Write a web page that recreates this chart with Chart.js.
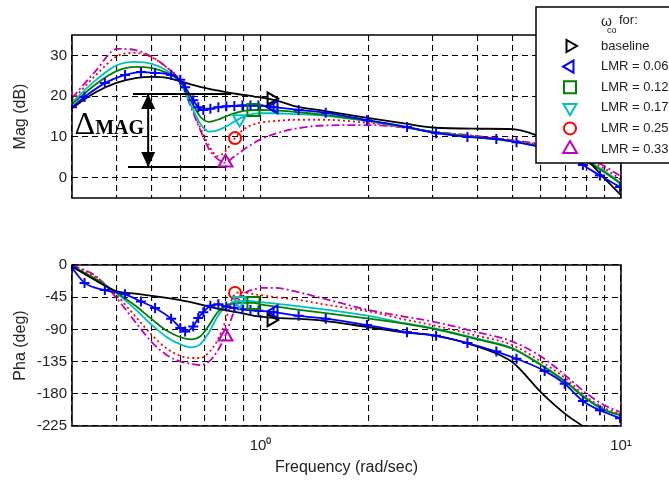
<!DOCTYPE html>
<html>
<head>
<meta charset="utf-8">
<script src="https://cdn.jsdelivr.net/npm/chart.js@4.4.0/dist/chart.umd.min.js"></script>
<style>
  body { margin: 0; background: #fff; width: 669px; height: 481px; overflow: hidden; position: relative; }
  canvas { position: absolute; left: 0; }
  #magChart { top: 0; }
  #phaChart { top: 220px; }
</style>
</head>
<body>
<canvas id="magChart" width="669" height="220"></canvas>
<canvas id="phaChart" width="669" height="261"></canvas>
<script>
// ---------- Data ----------
const freq = [0.3, 0.35, 0.4, 0.45, 0.5, 0.55, 0.6, 0.64, 0.68, 0.72, 0.76, 0.8, 0.84, 0.88, 0.92, 0.96,
  1.0, 1.1, 1.25, 1.5, 2, 2.5, 3, 4, 5, 6, 7, 8, 9, 10];
// LMR = 0.06 has its own sample points ('+' markers)
const freqLmr06 = [0.3, 0.325, 0.37, 0.421, 0.466, 0.51, 0.565, 0.599, 0.618, 0.651, 0.672, 0.694, 0.726,
  0.764, 0.804, 0.846, 0.891, 0.938, 0.987, 1.087, 1.276, 1.517, 1.974, 2.55, 3.07, 3.75, 4.51, 5.13,
  6.14, 6.98, 7.84, 8.74, 9.94];

const magBaseline = [17.1, 21.0, 23.3, 24.4, 24.7, 24.5, 23.6, 22.9, 22.3, 21.8, 21.4, 21.0, 20.7, 20.4, 20.2, 19.9,
  19.7, 19.0, 17.5, 16.4, 14.6, 13.3, 12.3, 12.0, 11.9, 10.0, 7.6, 4.5, -0.2, -4.3];
const magLmr06 = [17.3, 19.8, 23.2, 25.2, 25.9, 25.7, 25.2, 24.0, 22.2, 19.0, 17.3, 16.6, 16.9, 17.3, 17.5, 17.6,
  17.7, 17.7, 17.7, 17.3, 16.6, 15.9, 14.1, 12.4, 10.9, 10.0, 9.5, 8.7, 7.2, 5.6, 3.1, 0.5, -2.3];
const magLmr12 = [18.0, 23.0, 26.2, 27.2, 26.9, 25.7, 23.5, 19.0, 15.0, 13.7, 14.2, 15.0, 15.7, 16.2, 16.5, 16.6,
  16.6, 16.5, 16.1, 15.4, 13.9, 12.5, 11.2, 9.9, 8.9, 7.6, 6.1, 4.0, 1.3, -1.6];
const magLmr17 = [18.5, 24.0, 27.6, 28.4, 27.9, 26.2, 23.2, 18.0, 13.3, 11.3, 11.6, 12.5, 13.6, 14.6, 15.3, 15.7,
  15.8, 15.8, 15.6, 15.2, 13.8, 12.4, 11.2, 9.9, 8.9, 7.7, 6.3, 4.3, 1.6, -1.3];
const magLmr25 = [19.0, 25.2, 29.8, 30.6, 29.5, 27.0, 23.8, 18.0, 12.3, 7.8, 5.3, 6.5, 9.2, 11.2, 12.4, 13.1,
  13.5, 13.9, 14.2, 14.2, 13.4, 12.3, 11.2, 10.1, 9.1, 8.0, 6.7, 4.7, 2.2, -0.5];
const magLmr33 = [19.5, 26.3, 31.6, 31.3, 29.6, 27.0, 23.5, 17.5, 11.8, 7.0, 4.6, 3.7, 5.0, 6.3, 7.5, 8.5,
  9.4, 10.8, 12.0, 12.8, 12.9, 12.3, 11.3, 10.2, 9.2, 8.2, 7.0, 5.2, 2.8, 0.3];

const phaBaseline = [-2, -22, -37, -40, -43, -46, -49, -52, -55, -58, -61, -63, -65, -67, -69, -71,
  -72, -74, -75, -78, -87, -94, -98, -114, -136, -178, -208, -228, -245, -260];
const phaLmr06 = [-4, -25, -35, -41, -51, -60, -75, -88, -93, -86, -74, -66, -57, -55, -58, -60,
  -62, -63, -64, -66, -71, -75, -84, -94, -99, -109, -121, -131, -148, -166, -190, -203, -214];
const phaLmr12 = [-2, -20, -39, -57, -76, -92, -101, -104, -100, -84, -66, -57, -54, -53, -53, -53,
  -55, -58, -62, -67, -75, -82, -89, -104, -117, -140, -163, -187, -203, -210];
const phaLmr17 = [-2, -20, -40, -62, -84, -101, -111, -115, -111, -94, -72, -58, -52, -50, -50, -51,
  -52, -54, -57, -62, -71, -81, -88, -103, -116, -139, -162, -186, -202, -210];
const phaLmr25 = [-1, -17, -43, -72, -98, -117, -127, -130, -130, -122, -105, -78, -44, -38, -39, -41,
  -42, -45, -48, -55, -65, -76, -84, -99, -112, -135, -158, -184, -200, -208];
const phaLmr33 = [0, -16, -47, -80, -108, -126, -135, -138, -140, -135, -120, -98, -68, -45, -37, -34,
  -32, -32, -37, -47, -63, -72, -79, -94, -107, -128, -154, -179, -196, -206];

// crossover (w_co) markers: baseline, 0.06, 0.12, 0.17, 0.25, 0.33
const seriesLabels = ["baseline", "LMR = 0.06", "LMR = 0.12", "LMR = 0.17", "LMR = 0.25", "LMR = 0.33"];
const crossFreq = [1.07, 1.09, 0.956, 0.875, 0.85, 0.80];
const crossMag = [19.4, 17.3, 16.6, 14.4, 9.7, 3.7];
const crossPha = [-77, -65, -53, -50, -39, -100];

// axis ticks
const freqGrid = [0.3, 0.4, 0.5, 0.6, 0.7, 0.8, 0.9, 1, 2, 3, 4, 5, 6, 7, 8, 9, 10];
const magTicks = [0, 10, 20, 30];
const phaTicks = [-225, -180, -135, -90, -45, 0];

// Delta MAG annotation (dB levels and frequency spans)
const deltaLevels = [20.5, 2.6];
const deltaSpanTop = [0.443, 0.83];
const deltaSpanBottom = [0.429, 0.804];
const deltaArrowFreq = 0.488;
const deltaTextPos = [0.305, 10.7];

// ---------- Styles ----------
const styles = [
  { color: "#000000", dash: [], marker: "triangle", rot: 90, r: 7 },
  { color: "#0000ff", dash: [], marker: "triangle", rot: 270, r: 7 },
  { color: "#008000", dash: [], marker: "rect", rot: 0, r: 8.5 },
  { color: "#00bfbf", dash: [], marker: "triangle", rot: 180, r: 7.5 },
  { color: "#ff0000", dash: [2, 3], marker: "circle", rot: 0, r: 6 },
  { color: "#bf00bf", dash: [8, 3, 2, 3], marker: "triangle", rot: 0, r: 8 }
];
const FONT = '"Liberation Sans", Arial, sans-serif';
Chart.defaults.font.family = FONT;
Chart.defaults.color = "#222";

function buildDatasets(series, cross) {
  let sets = [];
  series.forEach((ys, i) => {
    const xs = i === 1 ? freqLmr06 : freq;
    const s = styles[i];
    sets.push({
      label: seriesLabels[i],
      data: xs.map((x, k) => ({ x: x, y: ys[k] })),
      borderColor: s.color,
      borderWidth: 1.8,
      borderDash: s.dash,
      pointRadius: i === 1 ? 5 : 0,
      pointStyle: "cross",
      pointBorderWidth: 2,
      pointBorderColor: s.color,
      cubicInterpolationMode: "monotone",
      fill: false,
      order: i === 1 ? 2 : 3
    });
  });
  crossFreq.forEach((f, i) => {
    const s = styles[i];
    sets.push({
      label: seriesLabels[i],
      isMarker: true,
      data: [{ x: f, y: cross[i] }],
      showLine: false,
      pointStyle: s.marker,
      pointRotation: s.rot,
      pointRadius: s.r,
      pointBorderColor: s.color,
      pointBackgroundColor: "rgba(0,0,0,0)",
      pointBorderWidth: 2,
      order: 0
    });
  });
  return sets;
}

function annotLine(xs, ys) {
  return {
    label: "annot",
    data: xs.map((x, k) => ({ x: x, y: ys[k] })),
    borderColor: "#000",
    borderWidth: 2,
    pointRadius: 0,
    tension: 0,
    order: 1
  };
}

function xScale(showLabels) {
  return {
    type: "logarithmic",
    min: 0.3,
    max: 10,
    bounds: "data",
    afterBuildTicks: axis => { axis.ticks = freqGrid.map(v => ({ value: v, major: v === 1 || v === 10 })); },
    afterFit: axis => { axis.height = showLabels ? 55 : 0; },
    grid: { color: "#000", lineWidth: 1.1, drawTicks: false },
    border: { display: false, dash: [6, 4] },
    ticks: {
      display: showLabels,
      autoSkip: false,
      maxRotation: 0,
      padding: 11,
      font: { size: 15 },
      callback: v => (v === 1 ? "10\u2070" : v === 10 ? "10\u00b9" : "")
    },
    title: {
      display: showLabels,
      text: "Frequency (rad/sec)",
      font: { size: 16 },
      padding: { top: 0, bottom: 4 }
    }
  };
}

function yScale(min, max, ticks, title) {
  return {
    min: min,
    max: max,
    bounds: "data",
    afterBuildTicks: axis => { axis.ticks = ticks.map(v => ({ value: v })); },
    afterFit: axis => { axis.width = 72; },
    grid: { color: "#000", lineWidth: 1.1, drawTicks: false },
    border: { display: false, dash: [6, 4] },
    ticks: { padding: 5, font: { size: 15 } },
    title: { display: true, text: title, font: { size: 16 }, padding: { top: 11, bottom: 0 } }
  };
}

// ---------- Plugins ----------
const frame = {
  id: "frame",
  afterDatasetsDraw(chart) {
    const { ctx, chartArea: a } = chart;
    ctx.save();
    ctx.setLineDash([]);
    ctx.strokeStyle = "#000";
    ctx.lineWidth = 1.5;
    ctx.strokeRect(a.left, a.top, a.right - a.left, a.bottom - a.top);
    ctx.restore();
  }
};

const deltaMag = {
  id: "deltaMag",
  afterDatasetsDraw(chart) {
    const ctx = chart.ctx;
    const xs = chart.scales.x, ys = chart.scales.y;
    const ax = xs.getPixelForValue(deltaArrowFreq);
    const yTop = ys.getPixelForValue(deltaLevels[0]);
    const yBot = ys.getPixelForValue(deltaLevels[1]);
    ctx.save();
    ctx.fillStyle = "#000";
    [[yTop, 1], [yBot, -1]].forEach(([tip, dir]) => {
      ctx.beginPath();
      ctx.moveTo(ax, tip);
      ctx.lineTo(ax - 7, tip + dir * 15);
      ctx.lineTo(ax + 7, tip + dir * 15);
      ctx.closePath();
      ctx.fill();
    });
    const tx = xs.getPixelForValue(deltaTextPos[0]);
    const ty = ys.getPixelForValue(deltaTextPos[1]);
    ctx.textBaseline = "alphabetic";
    ctx.textAlign = "left";
    ctx.font = '32px "Liberation Serif", "Times New Roman", serif';
    ctx.fillText("\u0394", tx, ty);
    const w = ctx.measureText("\u0394").width;
    ctx.font = 'bold 20px "Liberation Serif", "Times New Roman", serif';
    ctx.fillText("MAG", tx + w, ty);
    ctx.restore();
  }
};

const legendBox = {
  id: "legendBox",
  afterDraw(chart) {
    const ctx = chart.ctx;
    const left = 536, top = 7;
    ctx.save();
    ctx.setLineDash([]);
    ctx.fillStyle = "#fff";
    ctx.fillRect(left, top, 150, 156);
    ctx.strokeStyle = "#000";
    ctx.lineWidth = 1.5;
    ctx.strokeRect(left, top, 150, 156);

    ctx.fillStyle = "#222";
    ctx.textAlign = "left";
    ctx.textBaseline = "alphabetic";
    ctx.font = "14px " + FONT;
    ctx.fillText("\u03c9", 601, 26);
    ctx.font = "9px " + FONT;
    ctx.fillText("co", 607, 33);
    ctx.font = "13px " + FONT;
    ctx.fillText("for:", 619, 24);

    const markers = chart.data.datasets.filter(d => d.isMarker);
    markers.forEach((d, i) => {
      const y = 46 + i * 20.6;
      ctx.strokeStyle = d.pointBorderColor;
      ctx.fillStyle = "rgba(0,0,0,0)";
      ctx.lineWidth = 2;
      Chart.helpers.drawPoint(ctx, {
        pointStyle: d.pointStyle,
        rotation: d.pointRotation,
        radius: d.pointRadius,
        borderWidth: 2
      }, 570, y);
      ctx.fillStyle = "#222";
      ctx.font = "13px " + FONT;
      ctx.textBaseline = "middle";
      ctx.fillText(d.label, 601, y);
    });
    ctx.restore();
  }
};

// ---------- Magnitude chart ----------
const magSets = buildDatasets([magBaseline, magLmr06, magLmr12, magLmr17, magLmr25, magLmr33], crossMag);
magSets.push(annotLine(deltaSpanTop, [deltaLevels[0], deltaLevels[0]]));
magSets.push(annotLine(deltaSpanBottom, [deltaLevels[1], deltaLevels[1]]));
magSets.push(annotLine([deltaArrowFreq, deltaArrowFreq], deltaLevels));

new Chart(document.getElementById("magChart"), {
  type: "line",
  data: { datasets: magSets },
  options: {
    responsive: false,
    animation: false,
    devicePixelRatio: 1,
    layout: { padding: { left: 0, right: 48, top: 35, bottom: 22 } },
    plugins: { legend: { display: false }, tooltip: { enabled: false } },
    scales: {
      x: xScale(false),
      y: yScale(-5, 35, magTicks, "Mag (dB)")
    }
  },
  plugins: [frame, deltaMag, legendBox]
});

// ---------- Phase chart ----------
const phaSets = buildDatasets([phaBaseline, phaLmr06, phaLmr12, phaLmr17, phaLmr25, phaLmr33], crossPha);

new Chart(document.getElementById("phaChart"), {
  type: "line",
  data: { datasets: phaSets },
  options: {
    responsive: false,
    animation: false,
    devicePixelRatio: 1,
    layout: { padding: { left: 0, right: 48, top: 45, bottom: 0 } },
    plugins: { legend: { display: false }, tooltip: { enabled: false } },
    scales: {
      x: xScale(true),
      y: yScale(-225, 0, phaTicks, "Pha (deg)")
    }
  },
  plugins: [frame]
});
</script>
</body>
</html>
